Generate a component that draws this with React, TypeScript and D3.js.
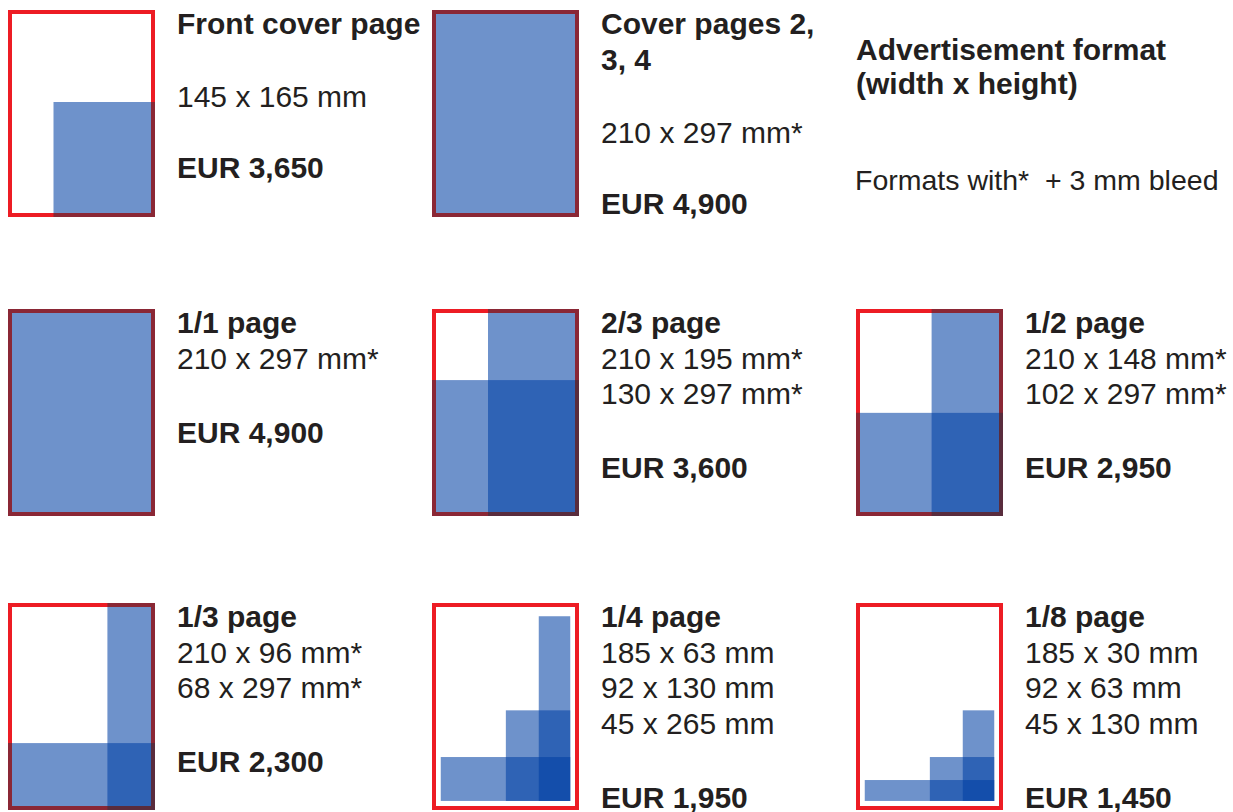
import * as d3 from "d3";
import React from "react";

// ad formats (mm, width x height), anchored bottom-right of the page
const formatNames = [
  ["Front cover page"],
  ["Cover pages 2,", "3, 4"],
  ["1/1 page"],
  ["2/3 page"],
  ["1/2 page"],
  ["1/3 page"],
  ["1/4 page"],
  ["1/8 page"],
];
const formatSizes: [number, number][][] = [
  [[145, 165]],
  [[210, 297]],
  [[210, 297]],
  [[210, 195], [130, 297]],
  [[210, 148], [102, 297]],
  [[210, 96], [68, 297]],
  [[185, 63], [92, 130], [45, 265]],
  [[185, 30], [92, 63], [45, 130]],
];
const withBleed = [false, true, true, true, true, true, false, false];
const prices = [3650, 4900, 4900, 3600, 2950, 2300, 1950, 1450];
// type area formats sit inside the margins
const inTypeArea = [false, false, false, false, false, false, true, true];

const pageW = 210;
const pageH = 297;

const W = 1233;
const H = 812;
const colX = [8, 432, 856];
const rowY = [10, 309, 603];
const slots = [
  [0, 0], [1, 0],
  [0, 1], [1, 1], [2, 1],
  [0, 2], [1, 2], [2, 2],
];

const ink = "#231f20";
const red = "#ed1c24";
const font = "'Liberation Sans', Arial, sans-serif";

const xs = d3.scaleLinear().domain([0, pageW]).range([0, 147]);
const ys = d3.scaleLinear().domain([0, pageH]).range([0, 207]);
const fmtPrice = d3.format(",");

const Page: React.FC<{ idx: number }> = ({ idx }) => {
  const [c, r] = slots[idx];
  const x0 = colX[c];
  const y0 = rowY[r];
  const right = inTypeArea[idx] ? pageW - 12.5 : pageW;
  const bottom = inTypeArea[idx] ? pageH - 13 : pageH;
  const rects = formatSizes[idx].map(([w, h]) => ({
    x: xs(right - w),
    y: ys(bottom - h),
    w: xs(w),
    h: ys(h),
  }));
  const frame = (
    <rect x={2} y={2} width={xs(pageW) - 4} height={ys(pageH) - 4} fill="none" />
  );

  // text
  const first = r === 0;
  const tx = x0 + 169;
  const titleBase = y0 + 24;
  const titleStep = 36;
  const titleEnd = titleBase + (formatNames[idx].length - 1) * titleStep;
  const sizeBase = titleEnd + (first ? 73 : 35.5);
  const sizeLines = formatSizes[idx].map(
    ([w, h]) => `${w} x ${h} mm${withBleed[idx] ? "*" : ""}`
  );
  const sizeEnd = sizeBase + (sizeLines.length - 1) * 35.5;
  const priceY = sizeEnd + (first ? 71 : 74);

  return (
    <g>
      <g transform={`translate(${x0},${y0})`}>
        <defs>
          {rects.map((d, i) => (
            <clipPath key={i} id={`clip-${idx}-${i}`}>
              <rect x={d.x} y={d.y} width={d.w} height={d.h} />
            </clipPath>
          ))}
        </defs>
        {rects.map((d, i) => (
          <rect key={i} x={d.x} y={d.y} width={d.w} height={d.h} fill="rgb(0,64,164)" fillOpacity={0.57} />
        ))}
        <g stroke={red} strokeWidth={4}>{frame}</g>
        {/* darker frame where the ad covers it */}
        {rects.map((d, i) => (
          <g key={i} clipPath={`url(#clip-${idx}-${i})`} stroke="rgb(40,50,70)" strokeOpacity={0.5} strokeWidth={4}>
            {frame}
          </g>
        ))}
      </g>
      <g fontFamily={font} fontSize={30} fill={ink}>
        {formatNames[idx].map((t, i) => (
          <text key={t} x={tx} y={titleBase + i * titleStep} fontWeight="bold">{t}</text>
        ))}
        {sizeLines.map((t, i) => (
          <text key={t} x={tx} y={sizeBase + i * 35.5}>{t}</text>
        ))}
        <text x={tx} y={priceY} fontWeight="bold">{`EUR ${fmtPrice(prices[idx])}`}</text>
      </g>
    </g>
  );
};

export default function App() {
  return (
    <svg width={W} height={H} style={{ position: "absolute", left: 0, top: 0, background: "#fff" }}>
      <rect width={W} height={H} fill="#fff" />
      {formatNames.map((_, i) => (
        <Page key={i} idx={i} />
      ))}
      <g fontFamily={font} fill={ink}>
        <text x={856} y={60} fontSize={30} fontWeight="bold">Advertisement format</text>
        <text x={856} y={94} fontSize={30} fontWeight="bold">(width x height)</text>
        <text x={855} y={190} fontSize={28.5} xmlSpace="preserve">{"Formats with*  + 3 mm bleed"}</text>
      </g>
    </svg>
  );
}
